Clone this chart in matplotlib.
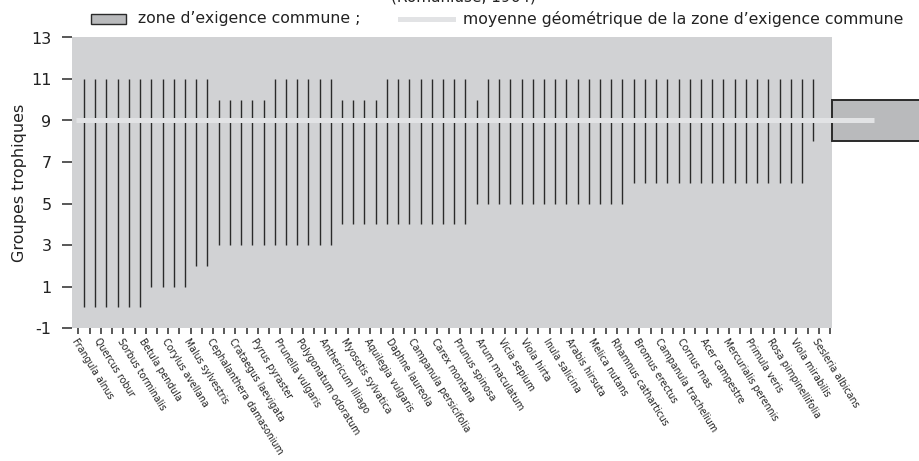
"""
Groupes trophiques : amplitude des espèces et zone d'exigence commune.
"""
import matplotlib
matplotlib.use('Agg')
import matplotlib.pyplot as plt
from matplotlib.patches import Rectangle
from matplotlib.lines import Line2D

plt.rcParams['axes.unicode_minus'] = False

# ── données ──
species = ['Frangula alnus', 'Quercus robur', 'Sorbus torminalis', 'Betula pendula',
           'Corylus avellana', 'Malus sylvestris', 'Cephalanthera damasonium',
           'Crataegus laevigata', 'Pyrus pyraster', 'Prunella vulgaris',
           'Polygonatum odoratum', 'Anthericum liliago', 'Myosotis sylvatica',
           'Aquilegia vulgaris', 'Daphne laureola', 'Campanula persicifolia',
           'Carex montana', 'Prunus spinosa', 'Arum maculatum', 'Vicia sepium',
           'Viola hirta', 'Inula salicina', 'Arabis hirsuta', 'Melica nutans',
           'Rhamnus catharticus', 'Bromus erectus', 'Campanula trachelium',
           'Cornus mas', 'Acer campestre', 'Mercurialis perennis', 'Primula veris',
           'Rosa pimpinellifolia', 'Viola mirabilis', 'Sesleria albicans']

lows = [0, 0, 0, 0, 0, 0, 1, 1, 1, 1, 2, 2,
        3, 3, 3, 3, 3, 3, 3, 3, 3, 3, 3,
        4, 4, 4, 4, 4, 4, 4, 4, 4, 4, 4, 4,
        5, 5, 5, 5, 5, 5, 5, 5, 5, 5, 5, 5, 5, 5,
        6, 6, 6, 6, 6, 6, 6, 6, 6, 6, 6, 6, 6, 6, 6, 6,
        8]
highs = [11, 11, 11, 11, 11, 11, 11, 11, 11, 11, 11, 11,
         10, 10, 10, 10, 10, 11, 11, 11, 11, 11, 11,
         10, 10, 10, 10, 11, 11, 11, 11, 11, 11, 11, 11,
         10, 11, 11, 11, 11, 11, 11, 11, 11, 11, 11, 11, 11, 11,
         11, 11, 11, 11, 11, 11, 11, 11, 11, 11, 11, 11, 11, 11, 11, 11,
         11]
zone_low, zone_high = 8, 10
zone_mean = 9
y_ticks = [-1, 1, 3, 5, 7, 9, 11, 13]

# ── couleurs ──
BG = '#d1d2d4'
ZONE = '#b9babc'
MEAN = '#e2e3e5'
INK = '#2a2a2a'
TXT = '#222222'

fig = plt.figure(figsize=(9.19, 4.61), dpi=100)
ax = fig.add_axes([71.7 / 919, 1 - 328 / 461, 760 / 919, 290.5 / 461])
ax.set_facecolor(BG)
for s in ax.spines.values():
    s.set_visible(False)

n_slots = 67
xs = [i + 0.5 for i in range(len(lows))]
ax.vlines(xs, lows, highs, colors=INK, lw=1.0, zorder=2)

# zone commune (déborde à droite du cadre)
ax.add_patch(Rectangle((n_slots + 0.15, zone_low), 9, zone_high - zone_low,
                       facecolor=ZONE, edgecolor=INK, lw=1.4, clip_on=False, zorder=3))
ax.plot([-0.2, 70.9], [zone_mean, zone_mean], color=MEAN, lw=3.6,
        solid_capstyle='butt', clip_on=False, zorder=4)

ax.set_xlim(-0.6, n_slots + 0.15)
ax.set_ylim(-1, 13)
ax.set_yticks(y_ticks)
ax.tick_params(axis='y', length=7.5, width=1.1, color=INK, pad=7,
               labelsize=11.5, labelcolor=TXT)
ax.set_xticks(range(n_slots + 1))
xlabels = ['' for _ in range(n_slots + 1)]
for k, name in enumerate(species):
    xlabels[2 * k] = name
ax.set_xticklabels(xlabels, rotation=-58, ha='left', va='top',
                   rotation_mode='anchor', fontsize=7.6, fontstretch='condensed',
                   color=TXT)
ax.tick_params(axis='x', length=4, width=1.1, color=INK, pad=2)

ax.set_ylabel('Groupes trophiques', fontsize=11.5, color=TXT)
ax.yaxis.set_label_coords(-0.059, 0.5)

# ── légende en haut ──
fig.add_artist(Rectangle((91 / 919, 1 - 24 / 461), 35 / 919, 10 / 461,
                         transform=fig.transFigure, facecolor=ZONE,
                         edgecolor=INK, lw=1.0))
fig.text(138 / 919, 1 - 19 / 461, "zone d\u2019exigence commune ;", fontsize=11.3,
         va='center', ha='left', color=TXT)
fig.add_artist(Line2D([400 / 919, 453 / 919], [1 - 19 / 461, 1 - 19 / 461],
                      transform=fig.transFigure, color=MEAN, lw=3.6))
fig.text(463 / 919, 1 - 19 / 461,
         "moyenne g\u00e9om\u00e9trique de la zone d\u2019exigence commune",
         fontsize=11.3, va='center', ha='left', color=TXT)
fig.text(463 / 919, 1 - 1.5 / 461, '(Romaniuse, 1964)', fontsize=11,
         va='baseline', ha='center', color=TXT)

plt.savefig('out.png', dpi=100)
plt.close()
